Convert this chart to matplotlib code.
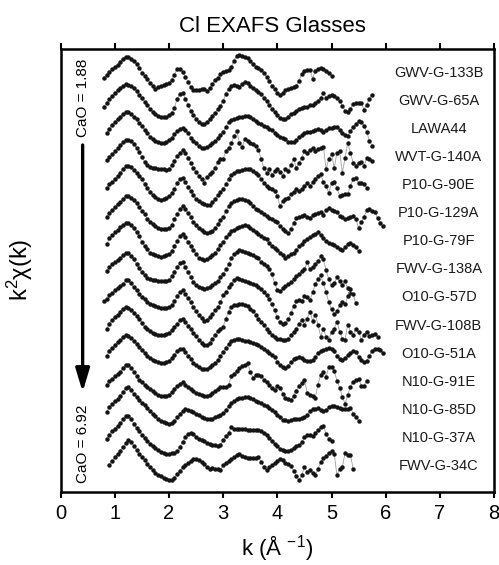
import matplotlib
matplotlib.use('Agg')
import matplotlib.pyplot as plt
import numpy as np

plt.rcParams['font.family'] = ['Liberation Sans', 'DejaVu Sans']
plt.rcParams['mathtext.fontset'] = 'custom'
plt.rcParams['mathtext.rm'] = 'Liberation Sans'
plt.rcParams['mathtext.it'] = 'Liberation Sans:italic'

# sample names, top to bottom (CaO 1.88 -> 6.92)
samples = ['GWV-G-133B', 'GWV-G-65A', 'LAWA44', 'WVT-G-140A', 'P10-G-90E',
           'P10-G-129A', 'P10-G-79F', 'FWV-G-138A', 'O10-G-57D', 'FWV-G-108B',
           'O10-G-51A', 'N10-G-91E', 'N10-G-85D', 'N10-G-37A', 'FWV-G-34C']

# first k of each spectrum, points every 0.05 A^-1
k_start = [0.80, 0.80, 0.85, 0.85, 0.85, 0.85, 0.85, 0.85, 0.80, 0.85,
           0.85, 0.85, 0.85, 0.85, 0.90]
k_step = 0.05

# k^2 chi(k), arbitrary units
gwv_g_133b = [-0.5, -0.2, 0.1, 0.4, 0.6, 0.8, 1.1, 1.4, 1.6, 1.6,
              1.4, 1.2, 0.9, 0.5, 0.0, -0.3, -0.6, -1.0, -1.3, -1.6,
              -1.4, -1.3, -1.2, -1.1, -1.0, -0.7, -0.2, 0.4, 0.4, 0.1,
              -0.4, -0.9, -1.4, -1.7, -1.7, -1.7, -1.6, -1.6, -1.8, -1.5,
              -1.1, -0.7, -0.5, -0.1, 0.1, 0.2, 0.3, 0.6, 1.2, 1.7,
              1.8, 1.7, 1.6, 1.5, 1.2, 0.9, 0.6, 0.5, 0.3, 0.0,
              -0.4, -0.8, -1.3, -1.6, -2.0, -2.2, -2.0, -1.7, -1.6, -1.5,
              -1.4, -1.3, -0.8, -0.1, 0.2, 0.3, 0.3, -0.6, 0.2, 0.4,
              0.5, 0.4, 0.2, 0.0, -0.3]
gwv_g_65a = [-0.6, -0.2, 0.2, 0.5, 0.8, 1.1, 1.3, 1.5, 1.7, 1.6,
             1.5, 1.3, 1.0, 0.6, 0.3, -0.1, -0.4, -0.8, -1.1, -1.3,
             -1.5, -1.6, -1.6, -1.6, -1.4, -1.2, -0.7, 0.2, 0.7, 0.8,
             0.2, -0.4, -1.0, -1.4, -1.8, -2.1, -2.3, -2.3, -2.1, -1.8,
             -1.5, -1.2, -0.8, -0.5, 0.0, 0.7, 1.2, 1.5, 1.6, 1.5,
             1.4, 1.7, 1.9, 1.8, 1.5, 1.3, 1.1, 0.9, 0.7, 0.3,
             0.0, -0.4, -0.8, -1.1, -1.4, -1.7, -1.8, -1.8, -1.6, -1.3,
             -1.2, -1.0, -0.8, -0.7, -0.6, -0.6, -0.4, -0.4, -0.2, 0.0,
             0.3, 0.8, 0.3, 0.5, 0.6, 0.5, 0.3, 0.0, -0.5, -1.0,
             -1.1, -0.8, -0.3, -0.2, -0.2, -0.2, -0.9, -0.4, 0.2, 0.6]
lawa44 = [-0.4, 0.0, 0.4, 0.7, 1.0, 1.2, 1.5, 1.7, 1.7, 1.5,
          1.2, 1.0, 0.6, 0.3, -0.1, -0.4, -0.8, -1.0, -1.2, -1.3,
          -1.4, -1.4, -1.3, -1.1, -0.9, -0.5, -0.2, 0.0, 0.1, -0.1,
          -0.4, -0.9, -1.2, -1.4, -1.7, -1.9, -1.9, -1.8, -1.6, -1.4,
          -1.2, -0.9, -0.6, -0.3, 0.2, 0.7, 0.9, 1.0, 1.1, 1.2,
          1.2, 1.3, 1.3, 1.2, 1.0, 0.8, 0.6, 0.5, 0.3, 0.2,
          0.0, -0.1, -0.4, -0.6, -0.8, -0.9, -1.0, -1.3, -1.3, -1.3,
          -1.1, -0.8, -0.6, -0.4, -0.3, -0.3, -0.2, -0.1, 0.0, -0.1,
          -0.3, -0.1, 0.1, 0.1, 0.2, 0.2, -0.1, -0.4, -0.6, -0.7,
          -0.2, 0.2, 0.5, 0.8, 0.7, 0.3, -0.3, -1.2, -1.7]
wvt_g_140a = [-0.3, 0.0, 0.3, 0.6, 0.9, 1.2, 1.5, 1.7, 1.7, 1.6,
              1.3, 0.9, 0.5, 0.0, -0.5, -0.8, -1.0, -1.1, -1.1, -1.2,
              -1.2, -1.2, -1.3, -1.2, -0.8, -0.4, 0.1, 0.4, 0.7, 0.4,
              -0.1, -0.6, -1.1, -1.5, -1.9, -2.2, -2.6, -2.0, -1.7, -1.5,
              -1.1, -0.5, -0.2, -0.2, 0.6, 0.9, 1.4, 2.1, 2.6, 1.4,
              1.0, 1.8, 1.6, 1.4, 1.3, 1.1, 0.7, -0.2, -1.1, -1.6,
              -1.2, -1.8, -1.4, -1.2, -1.5, -1.9, -1.2, -1.4, -0.8, -0.2,
              -1.1, -0.6, -0.1, 0.6, 0.4, 0.7, 0.9, 0.6, 0.8, 0.9,
              1.0, -1.2, -0.2, 0.3, -1.1, 0.4, 0.6, -1.6, -0.1, 1.4,
              0.4, -0.6, -0.9, -0.6, -0.5, -0.9, -0.1, -0.2, -0.4]
p10_g_90e = [-0.3, 0.1, 0.3, 0.6, 0.9, 1.2, 1.6, 1.9, 1.9, 1.8,
             1.5, 1.2, 0.9, 0.6, 0.1, -0.3, -0.7, -1.0, -1.2, -1.4,
             -1.5, -1.4, -1.3, -1.1, -0.8, -0.4, 0.2, 0.6, 0.7, 0.3,
             -0.2, -0.6, -1.0, -1.4, -1.6, -1.8, -1.9, -2.0, -2.0, -1.7,
             -1.4, -1.0, -0.7, -0.4, 0.1, 0.6, 1.0, 1.2, 1.4, 1.4,
             1.5, 1.6, 1.6, 1.6, 1.4, 1.2, 1.0, 0.6, 0.2, -0.1,
             -0.3, -0.4, -0.6, -1.1, -2.1, -1.6, -1.4, -1.3, -0.9, -0.7,
             -0.4, -0.6, -0.4, -0.1, 0.2, -0.1, 0.3, 0.6, 0.9, 1.1,
             0.3, -0.1, -0.8, 0.2, 0.3, -0.3, -1.1, -1.0, -0.9, -0.9,
             -0.1, 0.6, 0.7, 0.2, 0.2, 0.1, -0.3]
p10_g_129a = [-0.4, 0.0, 0.3, 0.6, 0.9, 1.1, 1.4, 1.7, 1.7, 1.5,
              1.3, 1.0, 0.6, 0.2, -0.1, -0.6, -0.9, -1.1, -1.3, -1.5,
              -1.6, -1.6, -1.6, -1.5, -1.2, -0.6, -0.1, 0.4, 0.7, 0.4,
              0.0, -0.4, -0.9, -1.2, -1.5, -1.7, -1.9, -2.0, -1.9, -1.8,
              -1.5, -1.1, -0.7, -0.4, 0.2, 0.7, 1.0, 1.2, 1.3, 1.4,
              1.4, 1.3, 1.2, 1.0, 0.7, 0.4, 0.3, 0.1, -0.1, -0.3,
              -0.5, -0.6, -0.8, -0.9, -1.3, -1.6, -1.8, -2.0, -1.6, -1.0,
              -0.5, -0.4, -0.3, -0.2, -0.4, -0.5, -0.2, -0.1, 0.0, 0.1,
              -0.2, 0.3, 0.5, 0.3, 0.2, 0.1, -0.3, -0.4, -0.6, -0.5,
              -0.4, -0.3, -0.6, -1.5, -0.9, -0.4, 0.3, 0.4, 0.2, 0.1,
              -0.5, -1.0, -1.3]
p10_g_79f = [-0.3, 0.3, 0.6, 0.9, 1.1, 1.4, 1.6, 1.8, 1.8, 1.6,
             1.3, 0.9, 0.5, -0.1, -0.5, -0.8, -1.2, -1.3, -1.4, -1.5,
             -1.6, -1.5, -1.4, -1.3, -1.0, -0.5, 0.0, 0.5, 0.7, 0.4,
             -0.1, -0.5, -0.9, -1.3, -1.7, -1.8, -1.9, -1.8, -1.6, -1.4,
             -1.2, -0.8, -0.4, -0.1, 0.4, 0.7, 1.0, 1.1, 1.3, 1.4,
             1.5, 1.6, 1.5, 1.3, 1.1, 0.9, 0.7, 0.5, 0.3, 0.2,
             -0.2, -0.5, -0.7, -0.9, -1.2, -1.4, -1.7, -1.5, -1.3, -1.2,
             -0.9, -0.5, -0.3, 0.0, 0.2, 0.4, 0.6, 0.7, 0.9, 0.6,
             0.3, 0.0, -0.2, -0.3, -0.4, -0.6, -0.8, -0.9, -0.6, -0.3,
             -0.2, -0.4, -0.6, -1.0]
fwv_g_138a = [-0.2, 0.2, 0.5, 0.7, 0.9, 1.1, 1.4, 1.6, 1.6, 1.3,
              1.0, 0.5, 0.1, -0.3, -0.6, -0.9, -1.0, -1.1, -1.1, -1.2,
              -1.2, -1.2, -1.2, -1.1, -0.7, -0.3, 0.2, 0.6, 0.7, 0.2,
              -0.3, -0.8, -1.3, -1.6, -1.8, -1.9, -2.0, -1.9, -1.8, -1.6,
              -1.4, -1.2, -0.8, -0.5, 0.0, 0.5, 1.1, 1.5, 1.7, 1.9,
              1.8, 1.7, 1.6, 1.5, 1.4, 1.2, 1.1, 0.7, 0.5, 0.3,
              0.0, -0.5, -1.4, -2.1, -2.2, -1.9, -1.7, -1.5, -1.3, -1.0,
              -0.7, -0.5, -0.2, 0.0, 0.7, 0.0, 0.2, 0.5, 0.8, 1.3,
              1.0, -0.1, -1.0, -1.6, -1.4, -0.8, -1.2, -1.6, -1.2, -1.9,
              -2.4]
o10_g_57d = [-0.4, -0.2, 0.2, 0.4, 0.7, 0.9, 1.1, 1.3, 1.7, 1.7,
             1.4, 1.0, 0.7, 0.3, 0.0, -0.2, -0.5, -0.7, -0.8, -0.9,
             -1.0, -1.1, -1.1, -1.1, -1.0, -0.8, -0.4, 0.1, 0.5, 0.7,
             0.3, -0.1, -0.5, -1.0, -1.4, -1.8, -2.1, -2.4, -2.3, -2.0,
             -1.7, -1.3, -1.0, -0.5, 0.2, 0.5, 1.0, 1.3, 1.7, 1.9,
             1.8, 1.7, 1.6, 1.5, 1.4, 1.3, 1.2, 1.0, 0.8, 0.5,
             0.2, -0.2, -0.7, -1.3, -2.0, -2.5, -2.7, -2.6, -2.2, -1.6,
             -0.9, -0.4, -0.3, -0.4, 0.1, 0.0, -0.3, 0.5, 1.3, 1.8,
             2.2, 1.4, 0.5, -0.5, -1.2, -1.7, -1.4, -0.8, -0.5, -0.7,
             0.1, 0.8, 0.3, -0.6]
fwv_g_108b = [-0.3, 0.2, 0.6, 0.9, 1.1, 1.4, 1.7, 1.9, 1.8, 1.6,
              1.3, 1.0, 0.7, 0.3, -0.1, -0.3, -0.5, -0.7, -0.8, -0.9,
              -0.9, -0.9, -0.8, -0.7, -0.4, -0.1, 0.2, 0.6, 0.7, 0.4,
              0.0, -0.3, -0.7, -1.0, -1.4, -1.7, -1.9, -1.9, -1.7, -1.3,
              -0.9, -0.5, -0.3, -0.1, 0.7, 1.4, 1.9, 2.1, 2.1, 2.2,
              2.2, 2.1, 2.0, 1.7, 1.5, 1.1, 0.7, 0.4, 0.1, -0.3,
              -0.6, -0.9, -1.1, -1.3, -1.3, -1.4, -1.4, -1.3, -0.9, -0.6,
              -0.3, 0.2, 0.6, 0.1, 0.7, 1.4, 0.5, 1.1, 0.1, -1.1,
              -0.3, -1.1, -1.4, -0.6, -0.3, 0.4, -0.6, -1.3, -1.4, 0.1,
              -0.6, -0.9, -0.3, -0.6, -1.4, -0.9, -0.6, -1.0, -0.9, -0.8,
              -1.1]
o10_g_51a = [-0.2, 0.3, 0.6, 0.9, 1.2, 1.4, 1.7, 1.9, 1.8, 1.6,
             1.3, 1.0, 0.7, 0.4, 0.1, -0.2, -0.4, -0.6, -0.7, -0.8,
             -0.9, -0.9, -0.8, -0.7, -0.4, -0.1, 0.3, 0.5, 0.5, 0.2,
             -0.2, -0.5, -0.9, -1.1, -1.3, -1.5, -1.5, -1.5, -1.3, -1.1,
             -0.9, -0.6, -0.2, 0.2, 0.6, 1.0, 1.3, 1.4, 1.5, 1.5,
             1.4, 1.3, 1.3, 1.2, 1.1, 1.0, 0.9, 0.7, 0.5, 0.3,
             0.1, -0.1, -0.3, -0.8, -1.1, -1.3, -1.4, -1.2, -0.8, -0.5,
             -0.4, -0.3, -0.4, -0.6, -0.7, -0.7, -0.6, -0.3, 0.1, 0.3,
             0.4, 0.5, 0.6, 0.5, 0.3, -0.2, -0.5, -0.6, -0.4, -0.1,
             0.1, 0.3, 0.2, -0.3, -0.6, -0.8, -0.7, -0.2, 0.3, 0.5,
             0.5, 0.4, 0.1]
n10_g_91e = [-0.3, 0.1, 0.3, 0.6, 0.8, 1.0, 1.4, 1.7, 1.7, 1.4,
             1.0, 0.6, 0.2, 0.0, -0.3, -0.5, -0.7, -0.9, -1.1, -1.3,
             -1.4, -1.4, -1.4, -1.3, -1.0, -0.7, -0.4, -0.2, 0.0, -0.3,
             -0.5, -0.7, -0.9, -1.1, -1.2, -1.3, -1.4, -1.4, -1.3, -1.1,
             -0.9, -0.7, -0.5, -0.5, -0.5, -0.3, 0.6, 0.8, 1.1, 1.4,
             1.6, 1.7, 1.9, 1.0, 0.4, 0.7, 0.7, 0.6, 0.2, 0.0,
             -0.3, -0.6, -0.8, -0.4, -0.6, -1.2, -1.6, -1.7, -1.8, -1.4,
             -0.9, -0.4, -0.1, 0.2, -1.1, -1.3, -1.4, -1.6, -0.3, 0.7,
             1.0, 0.5, 1.5, 1.5, 1.1, 0.1, -0.6, -1.5, -2.2, -1.3,
             -0.5, 0.0, 0.2, 0.3, -0.4, -0.4, 0.1]
n10_g_85d = [-0.2, 0.3, 0.6, 0.9, 1.1, 1.4, 1.8, 2.2, 2.3, 2.0,
             1.6, 1.3, 1.0, 0.7, 0.5, 0.2, -0.1, -0.4, -0.6, -0.9,
             -1.1, -1.2, -1.3, -1.4, -1.3, -1.1, -0.7, -0.4, -0.1, 0.1,
             0.0, -0.1, -0.2, -0.4, -0.5, -0.7, -0.8, -0.9, -0.9, -0.9,
             -0.7, -0.6, -0.5, -0.3, 0.0, 0.4, 0.7, 0.9, 1.1, 1.2,
             1.2, 1.3, 1.3, 1.2, 1.1, 0.9, 0.8, 0.7, 0.5, 0.4,
             0.2, 0.0, -0.2, -0.5, -0.7, -1.0, -1.0, -1.1, -1.0, -0.9,
             -0.9, -0.9, -0.8, -0.7, -0.5, -0.1, 0.1, 0.1, 0.2, 0.0,
             -0.1, 0.0, 0.3, 0.4, 0.4, 0.3, 0.2, 0.1, 0.1, 0.1,
             0.2, -0.4, -0.7, -1.1]
n10_g_37a = [-0.1, 0.3, 0.7, 0.9, 1.2, 1.5, 1.9, 2.2, 2.2, 1.9,
             1.4, 1.0, 0.7, 0.3, 0.0, -0.3, -0.6, -0.8, -1.0, -1.2,
             -1.4, -1.5, -1.6, -1.6, -1.5, -1.5, -1.3, -0.9, -0.4, 0.1,
             0.4, 0.5, 0.4, 0.1, -0.1, -0.2, -0.3, -0.5, -0.6, -0.7,
             -0.7, -0.8, -0.7, -0.2, 0.2, 0.5, 1.1, 0.9, 0.9, 0.9,
             0.9, 0.9, 0.8, 0.8, 0.8, 0.8, 0.8, 0.7, 0.5, 0.3,
             0.0, -0.3, -0.6, -0.8, -1.1, -1.2, -1.3, -1.3, -1.2, -1.0,
             -0.8, -0.7, -0.4, 0.1, 0.3, 0.3, 0.2, 0.5, 0.8, 1.1,
             1.2, 0.4, -0.1, -0.3]
fwv_g_34c = [0.1, 0.5, 0.9, 1.2, 1.5, 1.9, 2.3, 2.6, 2.4, 2.0,
             1.6, 1.2, 0.9, 0.6, 0.2, -0.1, -0.4, -0.7, -0.9, -1.0,
             -1.2, -1.3, -1.4, -1.4, -1.2, -0.8, -0.5, -0.1, 0.1, 0.3,
             0.5, 0.7, 0.7, 0.6, 0.4, 0.2, -0.1, -0.3, -0.2, -0.3,
             -0.3, -0.4, 0.1, 0.3, 0.5, 0.7, 0.9, 1.1, 1.2, 1.0,
             0.9, 0.8, 0.8, 0.8, 0.8, 0.9, 0.4, -0.1, -0.4, -0.1,
             0.1, 0.3, 0.5, 0.7, 0.6, 0.3, 0.2, 0.0, -0.5, -1.0,
             -1.4, -0.9, -0.1, -0.6, -0.4, -0.7, -0.9, -0.3, 0.4, 0.8,
             1.0, 1.3, 1.5, 1.2, -0.9, -0.3, -0.1, 1.3, 1.1, 1.1,
             -0.3]

spectra = [gwv_g_133b, gwv_g_65a, lawa44, wvt_g_140a, p10_g_90e,
           p10_g_129a, p10_g_79f, fwv_g_138a, o10_g_57d, fwv_g_108b,
           o10_g_51a, n10_g_91e, n10_g_85d, n10_g_37a, fwv_g_34c]

spacing = 2.81

fig = plt.figure(figsize=(4.99, 5.65), dpi=100)
ax = fig.add_axes([60.7 / 499, 1 - 492 / 565, (494 - 60.7) / 499, (492 - 49) / 565])

n = len(spectra)
for i, (name, k0, chi) in enumerate(zip(samples, k_start, spectra)):
    k = k0 + k_step * np.arange(len(chi))
    off = (n - 1 - i) * spacing
    ax.plot(k, np.array(chi) + off, color='#a0a0a0', lw=0.6,
            marker='o', ms=3.2, mfc='#141414', mec='#141414', mew=0)
    ax.text(6.98, off, name, ha='center', va='center', fontsize=10.5, color='#1a1a1a')

# CaO trend arrow
ax.annotate('', xy=(0.405, 7.4), xytext=(0.405, 32.1),
            arrowprops=dict(arrowstyle='-|>,head_length=1.0,head_width=0.3',
                            lw=2.4, color='black', shrinkA=0, shrinkB=0,
                            mutation_scale=14))
ax.text(0.405, 36.8, 'CaO = 1.88', rotation=90, ha='center', va='center', fontsize=11)
ax.text(0.405, 2.2, 'CaO = 6.92', rotation=90, ha='center', va='center', fontsize=11)

ax.set_xlim(0, 8)
ax.set_ylim(-2.6, 41.7)
ax.set_xticks(np.arange(0, 9, 1))
ax.set_yticks([])
ax.tick_params(axis='x', direction='out', length=4.5, width=1.5, labelsize=14.5,
               pad=4, top=True)
for sp in ax.spines.values():
    sp.set_linewidth(1.8)

fig.text(272 / 499, 1 - 31.5 / 565, 'Cl EXAFS Glasses', ha='center', va='baseline', fontsize=16)
fig.text(277 / 499, 1 - 556 / 565, 'k (Å $^{\\mathrm{-1}}$)', ha='center', va='baseline', fontsize=16)
fig.text(20 / 499, 1 - 270 / 565, 'k$^{\\mathrm{2}}$χ(k)', rotation=90, ha='center', va='center', fontsize=17)

fig.savefig('out.png', dpi=100)
